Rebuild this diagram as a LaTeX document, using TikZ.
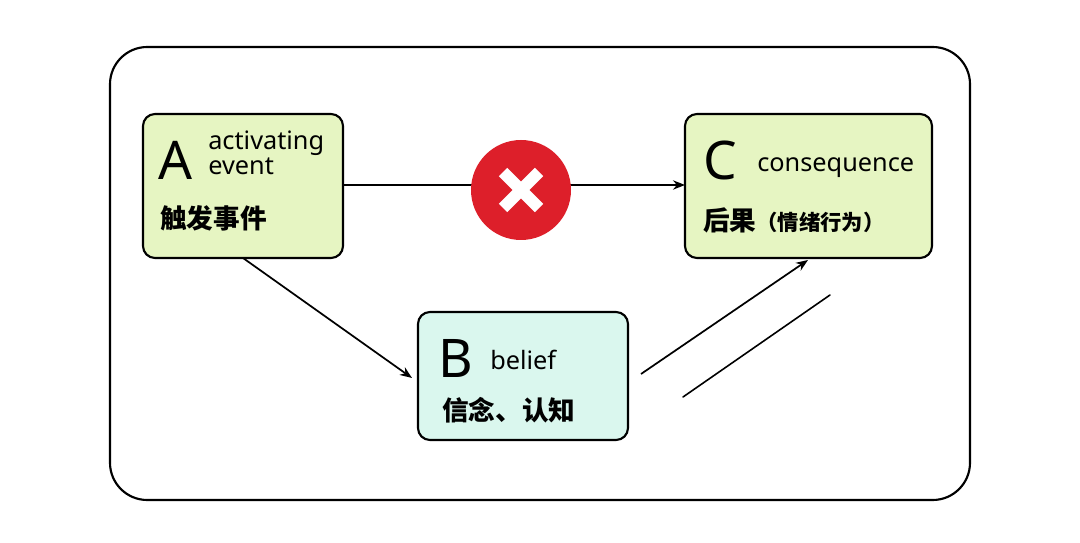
\documentclass[tikz,border=0pt]{standalone}
\usepackage{fontspec}
\setmainfont{Noto Sans}
\newfontfamily\cjk{Noto Sans CJK SC}
\usetikzlibrary{arrows.meta}
\definecolor{boxgreen}{HTML}{E6F5C2}
\definecolor{boxcyan}{HTML}{DAF7EE}
\definecolor{xred}{HTML}{DD1F2A}
\tikzset{
 px/.style={x=0.0264cm,y=-0.0264cm},
 box/.style={draw,line width=1.6pt,rounded corners=9pt},
 conn/.style={line width=1.3pt,-{Stealth[length=9pt,width=7pt]}},
 big/.style={font=\fontsize{40}{40}\selectfont\bfseries,anchor=base west,inner sep=0},
 eng/.style={font=\fontsize{19}{19}\selectfont,anchor=base west,inner sep=0},
 zh/.style={font=\cjk\bfseries\fontsize{20}{20}\selectfont,anchor=west,inner sep=0},
}
\begin{document}
\begin{tikzpicture}[px]
\useasboundingbox (0,0) rectangle (1080,543);
\draw[line width=1.6pt,rounded corners=28pt] (110,47) rectangle (970,500);
\draw[box,fill=boxgreen] (143,114) rectangle (343,258);
\draw[box,fill=boxgreen] (685,114) rectangle (932,258);
\draw[box,fill=boxcyan] (418,312) rectangle (628,440);
\coordinate (Ar) at (343,185);
\coordinate (Cl) at (685,185);
\coordinate (Ab) at (243,258);
\coordinate (Bl) at (412,378);
\coordinate (Bs) at (641,374);
\coordinate (Cb) at (808,260);
\coordinate (s1) at (683,397);
\coordinate (s2) at (830,295);
\node[big] (a) at (158,180) {A};
\node[eng] (a1) at (208,150) {activating};
\node[eng] (a2) at (208,175) {event};
\node[zh] (a3) at (160,218) {触发事件};
\node[big] (c) at (703,180) {C};
\node[eng] (c1) at (757,172) {consequence};
\node[zh] (c2) at (703,220) {后果\fontsize{16}{16}\selectfont（情绪行为）};
\node[big] (b) at (438,378) {B};
\node[eng] (b1) at (490,370) {belief};
\node[zh] (b2) at (442,410) {信念、认知};
\draw[conn] (Ar) -- (Cl);
\node[circle,fill=xred,minimum size=100*0.0264cm,inner sep=0] (x) at (521,190) {};
\draw[white,line width=9pt] (503,172) -- (539,208) (539,172) -- (503,208);
\draw[conn] (Ab) -- (Bl);
\draw[conn] (Bs) -- (Cb);
\draw[line width=1.2pt,line cap=round] (s1) -- (s2);
\end{tikzpicture}
\end{document}
